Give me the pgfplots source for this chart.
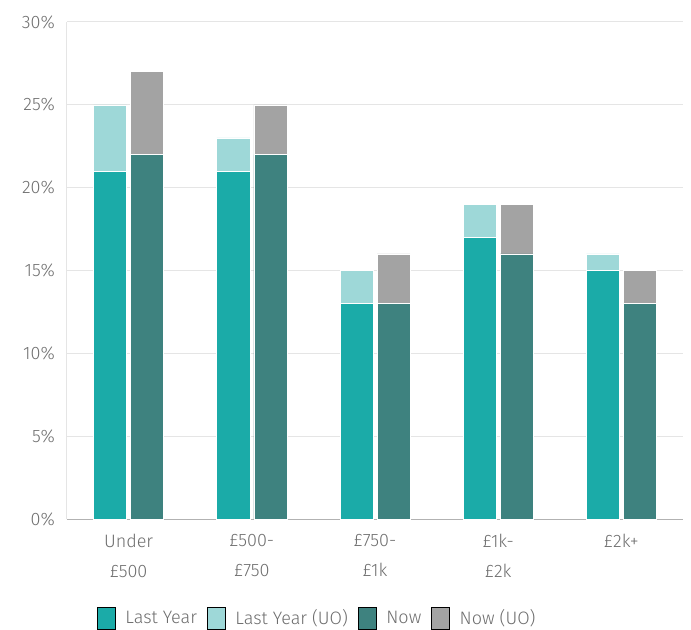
\documentclass[border=0pt]{standalone}
\usepackage{fontspec}
\setmainfont{Fira Sans Light}
\usepackage{pgfplots}
\pgfplotsset{compat=1.18}

\definecolor{ly}{RGB}{27,171,168}
\definecolor{lyuo}{RGB}{158,216,216}
\definecolor{now}{RGB}{62,130,127}
\definecolor{nowuo}{RGB}{163,163,163}
\definecolor{txt}{RGB}{110,110,110}

\begin{document}
\begin{tikzpicture}
\begin{axis}[
    name=ax,
    scale only axis,
    width=616pt, height=497pt,
    xmin=-0.5, xmax=4.5,
    ymin=0, ymax=30,
    ybar, bar width=33pt,
    xtick={0,1,2,3,4},
    xticklabels={{Under\\£500},{£500-\\£750},{£750-\\£1k},{£1k-\\£2k},{£2k+}},
    ytick={0,5,10,15,20,25,30},
    yticklabels={0\%,5\%,10\%,15\%,20\%,25\%,30\%},
    major tick length=0pt,
    axis lines*=left,
    x axis line style={draw=black!30, line width=1pt},
    y axis line style={draw=black!10, line width=1pt},
    ymajorgrids,
    grid style={draw=black!10, line width=1pt},
    tick label style={font=\fontsize{18}{30}\selectfont, text=txt},
    xticklabel style={align=center, inner sep=0pt, yshift=-15pt},
    yticklabel style={inner sep=0pt, xshift=-12pt},
    legend columns=4,
    legend style={draw=none, at={(0.0487,-0.177)}, anchor=north west,
        font=\fontsize{18}{22}\selectfont, text=txt, inner sep=0pt, outer sep=0pt,
        nodes={inner sep=0pt},
        /tikz/every odd column/.style={column sep=10pt},
        /tikz/every even column/.style={column sep=10pt}},
    legend image code/.code={\fill[#1] (0pt,-11pt) rectangle (18pt,11pt);},
]
% Last Year: total incl. UO drawn first, base on top
\addplot[fill=lyuo, draw=white, line width=0.6pt, bar shift=-18.5pt, forget plot]
    coordinates {(0,25) (1,23) (2,15) (3,19) (4,16)};
\addplot[fill=ly, draw=white, line width=0.6pt, bar shift=-18.5pt, forget plot]
    coordinates {(0,21) (1,21) (2,13) (3,17) (4,15)};
% Now
\addplot[fill=nowuo, draw=white, line width=0.6pt, bar shift=18.5pt, forget plot]
    coordinates {(0,27) (1,25) (2,16) (3,19) (4,15)};
\addplot[fill=now, draw=white, line width=0.6pt, bar shift=18.5pt, forget plot]
    coordinates {(0,22) (1,22) (2,13) (3,16) (4,13)};

\addlegendimage{fill=ly}
\addlegendentry{Last Year}
\addlegendimage{fill=lyuo}
\addlegendentry{Last Year (UO)}
\addlegendimage{fill=now}
\addlegendentry{Now}
\addlegendimage{fill=nowuo}
\addlegendentry{Now (UO)}
\end{axis}
\path ([shift={(-67pt,-110pt)}]ax.south west) rectangle ([shift={(8pt,22pt)}]ax.north east);
\end{tikzpicture}
\end{document}
